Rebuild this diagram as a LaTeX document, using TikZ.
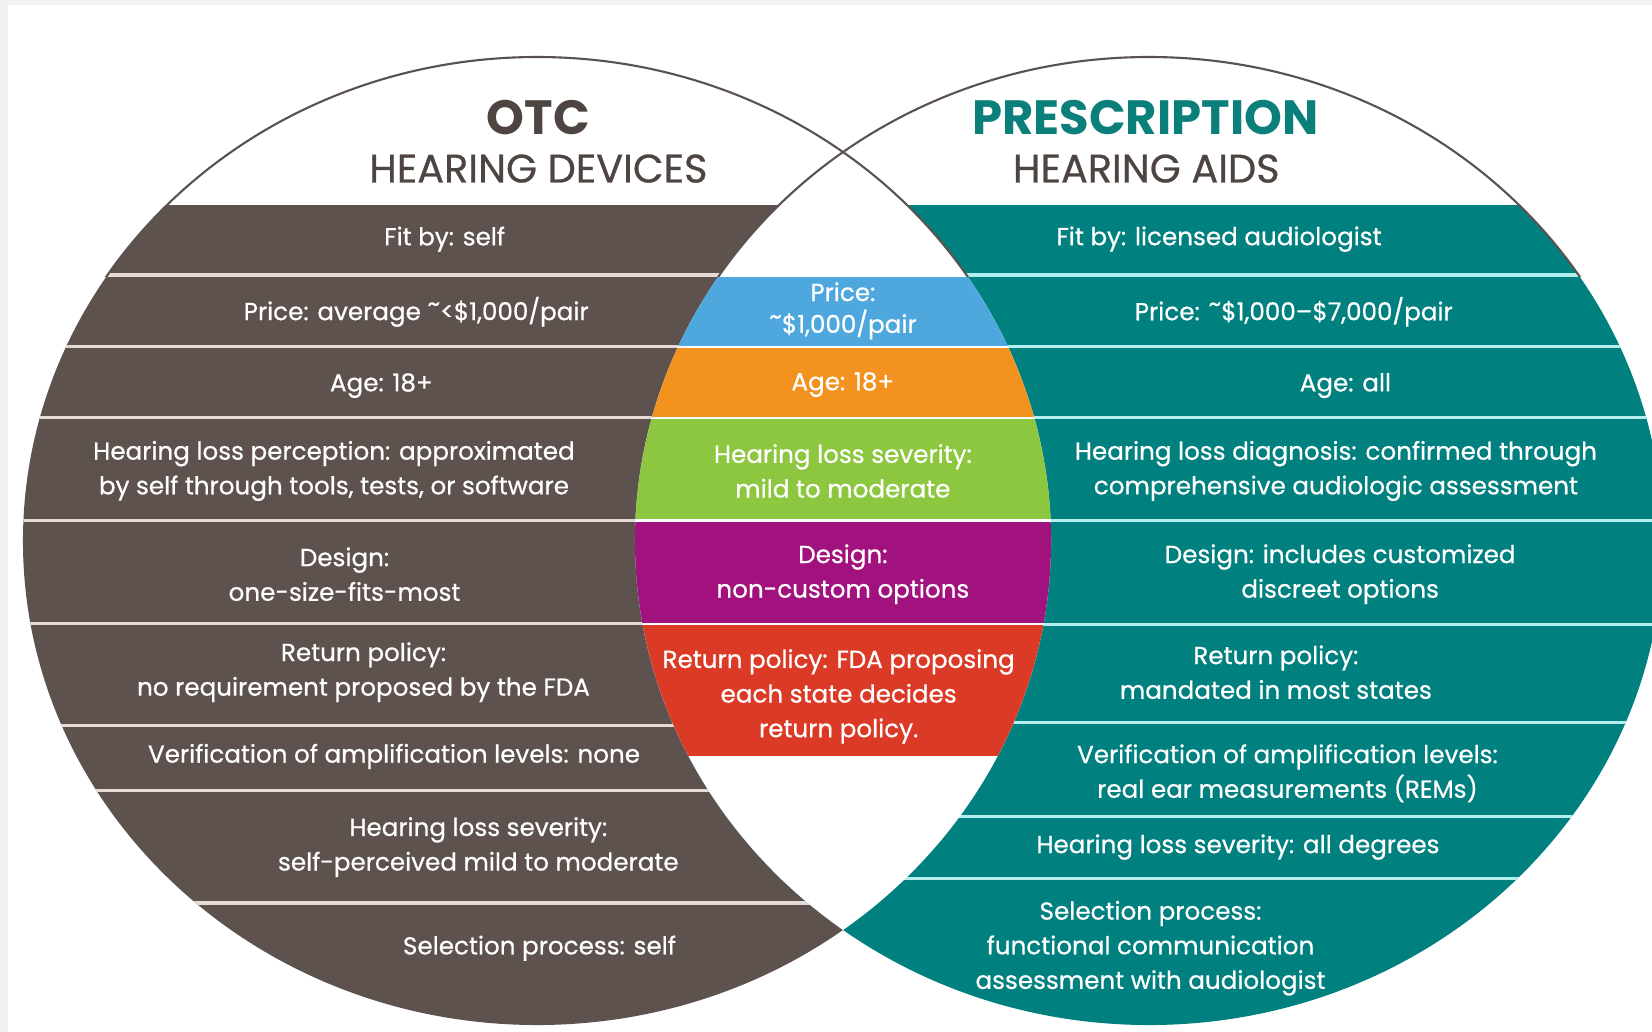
\documentclass[tikz,border=0pt]{standalone}
\usepackage{fontspec}
\setmainfont{Poppins}
\newfontfamily\bandfont{Poppins}[FakeBold=0.6, Ligatures=TeX]
\usetikzlibrary{positioning}
\definecolor{otcbrown}{HTML}{5E524E}
\definecolor{rxteal}{HTML}{00807E}
\definecolor{titlebrown}{HTML}{4E4441}
\definecolor{titleteal}{HTML}{0B7F7A}
\definecolor{sepbrown}{HTML}{E6DAD6}
\definecolor{septeal}{HTML}{B4EEEE}
\definecolor{midblue}{HTML}{4EA7DD}
\definecolor{midorange}{HTML}{F3921F}
\definecolor{midgreen}{HTML}{8DC63F}
\definecolor{midpurple}{HTML}{A2127E}
\definecolor{midred}{HTML}{DA3A26}
\definecolor{rim}{HTML}{5A5250}
\definecolor{framegray}{HTML}{F1F1F0}
\tikzset{txt/.style={font=\bandfont\fontsize{13.3}{18.7}\selectfont, text=white, align=center, inner sep=0pt}}
\tikzset{big/.style={font=\fontsize{26}{26}\bfseries\selectfont, inner sep=0pt}}
\tikzset{sub/.style={font=\bandfont\fontsize{21.5}{21.5}\selectfont, text=titlebrown, inner sep=0pt}}
\tikzset{sepo/.style={sepbrown, line width=0.6mm}}
\tikzset{sepp/.style={septeal, line width=0.6mm}}
\newcommand{\otcshape}{(509.7,513.5) ellipse [x radius=487.9, y radius=459.4]}
\newcommand{\rxshape}{(1090.6,513.5) ellipse [x radius=487.9, y radius=459.4]}
\newcommand{\tl}{\raisebox{.6ex}{\textasciitilde}}

\begin{document}
\begin{tikzpicture}[x=0.2mm, y=-0.2mm]
  \useasboundingbox (0,0) rectangle (1568,979.5);
  \fill[framegray] (0,0) rectangle (1568,979.5);
  \fill[white] (7.6,4.7) rectangle (1568,979.5);

  % OTC side
  \begin{scope}
    \clip \otcshape;
    \fill[otcbrown] (0,194.6) rectangle (1100,990);
    \foreach \y in {261,329,396.5,494,592,688.5,750.5,857}
      \draw[sepo] (0,\y) -- (1000,\y);
  \end{scope}

  % prescription side
  \begin{scope}
    \clip \rxshape;
    \fill[rxteal] (500,194.6) rectangle (1700,990);
    \foreach \y in {261,329,396.5,494,593,685.5,775,833.5}
      \draw[sepp] (600,\y) -- (1700,\y);
  \end{scope}

  % overlap
  \begin{scope}
    \clip \otcshape;
    \clip \rxshape;
    \fill[white] (600,0) rectangle (1000,990);
    \fill[midblue] (600,262.5) rectangle (1000,328);
    \fill[midorange] (600,330) rectangle (1000,395.5);
    \fill[midgreen] (600,397.5) rectangle (1000,493);
    \fill[midpurple] (600,495) rectangle (1000,591);
    \fill[midred] (600,593) rectangle (1000,718);
  \end{scope}

  \begin{scope}
    \clip (0,0) rectangle (1568,262);
    \draw[rim, line width=0.4mm] \otcshape;
    \draw[rim, line width=0.4mm] \rxshape;
  \end{scope}

  % titles
  \node[big, text=titlebrown] (otc) at (511,112) {OTC};
  \node[sub] (otcsub) at (511,160) {HEARING DEVICES};
  \node[big, text=titleteal] (rx) at (1087,112) {PRESCRIPTION};
  \node[sub] (rxsub) at (1088,160) {HEARING AIDS};

  % left column
  \node[txt] (fitO) at (422,227) {Fit by: self};
  \node[txt] (priceO) at (395,296) {Price: average \tl<\$1,000/pair};
  \node[txt] (ageO) at (362,366) {Age: 18+};
  \node[txt] (lossO) at (317,447) {Hearing loss perception: approximated\\by self through tools, tests, or software};
  \node[txt] (designO) at (327,545) {Design:\\one-size-fits-most};
  \node[txt] (returnO) at (345,638) {Return policy:\\no requirement proposed by the FDA};
  \node[txt] (verifyO) at (374,718) {Verification of amplification levels: none};
  \node[txt] (severityO) at (454,804) {Hearing loss severity:\\self-perceived mild to moderate};
  \node[txt] (selectO) at (512,900) {Selection process: self};

  % middle column
  \node[txt] (priceM) at (800,295) {Price:\\[-1.5pt]\tl\$1,000/pair};
  \node[txt] (ageM) at (800,365) {Age: 18+};
  \node[txt] (severityM) at (800,447) {Hearing loss severity:\\mild to moderate};
  \node[txt] (designM) at (800,545) {Design:\\non-custom options};
  \node[txt] (returnM) at (796,661) {Return policy: FDA proposing\\each state decides\\return policy.};

  % right column
  \node[txt] (fitP) at (1157,227) {Fit by: licensed audiologist};
  \node[txt] (priceP) at (1228,296) {Price: \tl\$1,000\textendash\$7,000/pair};
  \node[txt] (ageP) at (1277,366) {Age: all};
  \node[txt] (lossP) at (1268,447) {Hearing loss diagnosis: confirmed through\\comprehensive audiologic assessment};
  \node[txt] (designP) at (1272,545) {Design: includes customized\\discreet options};
  \node[txt] (returnP) at (1211,638) {Return policy:\\mandated in most states};
  \node[txt] (verifyP) at (1222,734) {Verification of amplification levels:\\real ear measurements (REMs)};
  \node[txt] (severityP) at (1175,804) {Hearing loss severity: all degrees};
  \node[txt] (selectP) at (1092,900) {Selection process:\\functional communication\\assessment with audiologist};
\end{tikzpicture}
\end{document}
